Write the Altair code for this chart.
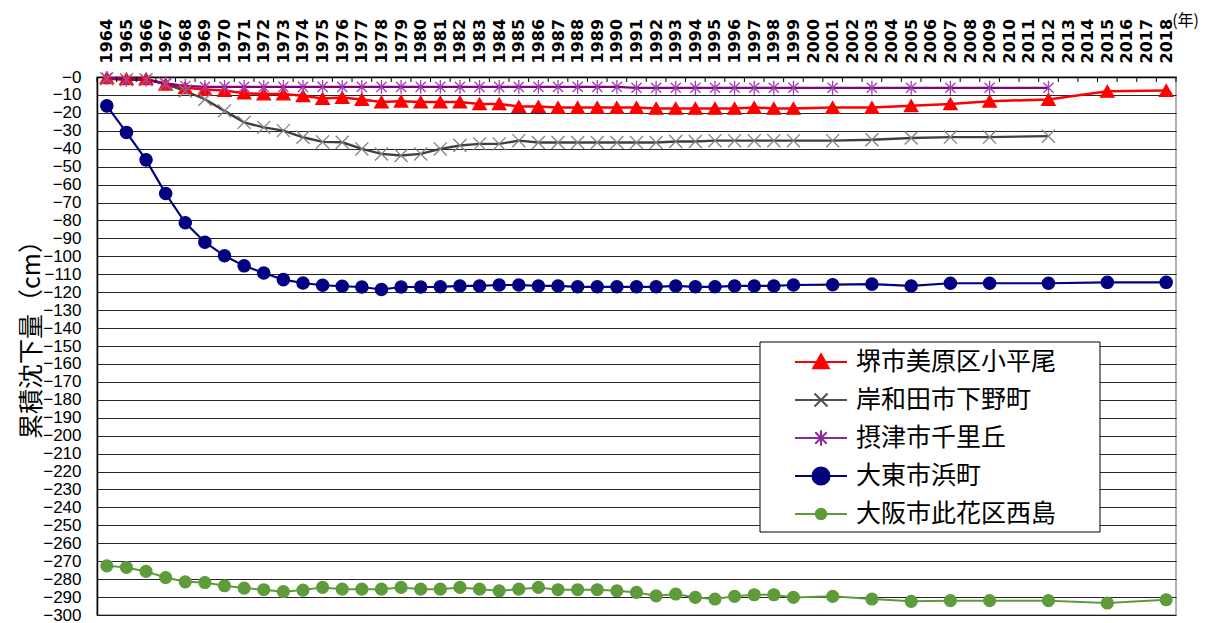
import altair as alt
import pandas as pd

# ---------------- data ----------------
years = list(range(1964, 2000)) + [2001, 2003, 2005, 2007, 2009, 2012, 2015, 2018]
axis_years = list(range(1964, 2019))

series = ["堺市美原区小平尾", "岸和田市下野町", "摂津市千里丘", "大東市浜町", "大阪市此花区西島"]

sakai = [-0.5, -1, -1, -4, -6, -7, -7.5, -9, -9.5, -9.5, -10.5, -12, -11.5, -12.5, -14, -13.5,
         -14, -14, -14, -15, -15, -16.5, -16.5, -17, -17, -17, -17, -17, -17.5, -17.5, -17.5,
         -17.5, -17.5, -17, -17.5, -17.5,
         -17, -17, -16, -15, -13.5, -12.5, -8, -7.5]
kishiwada = [-1, -1.5, -1.5, -4, -7.8, -12.4, -18.9, -25.3, -28.1, -29.9, -33.6, -36.2, -36.4,
             -40.1, -42.9, -43.8, -42.9, -40.1, -38.2, -37.3, -37.3, -35.5, -36.5, -36.5, -36.5,
             -36.5, -36.5, -36.5, -36.5, -36, -36, -35.5, -35.5, -35.5, -35.5, -35.5,
             -35.5, -35, -34, -33.5, -33.5, -33, None, None]
settsu = [-0.5, -1.5, -1.5, -3.5, -5, -5.5, -5.5, -5.5, -5.5, -5.5, -5.5, -5.5, -5.5, -5.5, -5.5,
          -5.5, -5.5, -5.5, -5.5, -5.5, -5.5, -5.5, -5.5, -5.5, -5.5, -5.5, -5.5, -6, -6, -6, -6,
          -6, -6, -6, -6, -6,
          -6, -6, -6, -6, -6, -6, None, None]
daito = [-16.1, -30.9, -46.2, -65, -81.3, -92.1, -99.7, -105.3, -109.3, -113, -114.9, -116.1,
         -116.7, -117.1, -118.5, -117.1, -117.1, -117, -116.5, -116.5, -116, -116, -116.5,
         -116.5, -117, -117, -117, -117, -117, -116.5, -117, -117, -116.5, -116.5, -116.5, -116,
         -115.8, -115.5, -116.5, -115, -115, -115, -114.5, -114.5]
osaka = [-272.6, -273.5, -275.7, -279.1, -281.5, -281.9, -283.7, -285, -285.9, -287, -286.1,
         -284.6, -285.6, -285.6, -285.6, -284.6, -285.6, -285.6, -284.6, -285.6, -286.5, -285.6,
         -284.6, -285.9, -285.9, -285.9, -286.5, -287.4, -289.3, -288.3, -290.2, -291.1, -289.6,
         -288.7, -288.7, -290.2,
         -289.6, -291.1, -292.4, -292, -292, -292, -293.3, -291.5]
all_values = [sakai, kishiwada, settsu, daito, osaka]

y_ticks = list(range(-300, 1, 10))
tick_edges = [y - 0.5 for y in axis_years] + [axis_years[-1] + 0.5]

# ---------------- styles ----------------
line_colors = ["#FF0000", "#404040", "#800080", "#000080", "#5E9B3A"]
line_widths = [2.5, 2, 2.5, 2, 3.5]
marker_colors = ["#FF0000", "#808080", "#A040B0", "#000080", "#5E9B3A"]
marker_shapes = [
    "triangle-up",
    "M-1,-1L1,1M-1,1L1,-1",
    "M-0.8,-0.8L0.8,0.8M-0.8,0.8L0.8,-0.8M0,-1.1L0,1.1",
    "circle",
    "circle",
]
marker_sizes = [180, 140, 170, 280, 110]
legend_colors = ["#FF0000", "#505050", "#8A2A9A", "#000080", "#5E9B3A"]
legend_shapes = [
    "M-1,0H1M0,-0.3L0.3,0.24L-0.3,0.24Z",
    "M-1,0H1M-0.25,-0.25L0.25,0.25M-0.25,0.25L0.25,-0.25",
    "M-1,0H1M-0.22,-0.22L0.22,0.22M-0.22,0.22L0.22,-0.22M0,-0.3V0.3",
    "M-1,0H1M0.33,0A0.33,0.33 0 1,1 -0.33,0A0.33,0.33 0 1,1 0.33,0Z",
    "M-1,0H1M0.2,0A0.2,0.2 0 1,1 -0.2,0A0.2,0.2 0 1,1 0.2,0Z",
]

rows = []
for name, vals in zip(series, all_values):
    for yr, v in zip(years, vals):
        if v is not None:
            rows.append({"year": yr, "value": v, "series": name})
df = pd.DataFrame(rows)

x_scale = alt.Scale(domain=[axis_years[0] - 0.5, axis_years[-1] + 0.5], nice=False, zero=False)
y_scale = alt.Scale(domain=[-300, 0], nice=False, zero=False)

x_axis = alt.Axis(
    orient="top", values=axis_years, format="d", labelAngle=270, labelFont="DejaVu Sans",
    labelFontWeight="bold", labelFontSize=16, labelColor="#000", labelPadding=14,
    ticks=False, tickSize=0, grid=False, domain=True, domainColor="#000", domainWidth=1.5,
    title=None, labelOverlap=False,
)
y_axis = alt.Axis(
    values=y_ticks, labelExpr="datum.value == 0 ? '−0' : datum.label",
    labelFont="Liberation Sans", labelFontSize=17, labelColor="#000", labelPadding=16,
    ticks=False, tickSize=0, grid=True, gridColor="#000", gridWidth=1, gridOpacity=0.85,
    domain=True, domainColor="#000", domainWidth=1.5, labelOverlap=False,
    title="累積沈下量（cm）", titleFont="Noto Sans CJK JP", titleFontSize=25,
    titleFontWeight="normal", titleColor="#000", titleX=-53, titleY=256,
    titleAlign="center", titleBaseline="bottom",
)

X = alt.X("year:Q", scale=x_scale, axis=x_axis)
Y = alt.Y("value:Q", scale=y_scale, axis=y_axis)

base = alt.Chart(df)

frame = alt.Chart(pd.DataFrame({"k": [0]})).mark_rect(
    fill="white", stroke="black", strokeWidth=1
).encode(x=alt.value(663), x2=alt.value(1003), y=alt.value(265), y2=alt.value(455))

lines = base.mark_line().encode(
    x=X, y=Y,
    stroke=alt.Stroke("series:N", scale=alt.Scale(domain=series, range=line_colors), legend=None),
    strokeWidth=alt.StrokeWidth("series:O", scale=alt.Scale(domain=series, range=line_widths), legend=None),
    order="year:Q",
)

points = base.mark_point(filled=True, opacity=1, strokeWidth=1.3).encode(
    x=X, y=Y,
    shape=alt.Shape("series:N", scale=alt.Scale(domain=series, range=marker_shapes), legend=None),
    fill=alt.Fill("series:N", scale=alt.Scale(domain=series, range=marker_colors), legend=None),
    stroke=alt.Stroke("series:N", scale=alt.Scale(domain=series, range=marker_colors), legend=None),
    size=alt.Size("series:O", scale=alt.Scale(domain=series, range=marker_sizes), legend=None),
)

leg = alt.Legend(
    orient="none", legendX=697, legendY=272, title=None, labelFont="Noto Sans CJK JP",
    labelFontSize=25, labelColor="#000", labelLimit=500, labelOffset=8,
    symbolSize=2704, symbolStrokeWidth=2, symbolOpacity=1, clipHeight=26, rowPadding=12,
    padding=0, symbolOffset=0,
)
legend_layer = base.mark_point(filled=True, opacity=0).encode(
    x=X, y=Y,
    shape=alt.Shape("series:N", scale=alt.Scale(domain=series, range=legend_shapes), legend=leg),
    fill=alt.Fill("series:N", scale=alt.Scale(domain=series, range=legend_colors), legend=leg),
    stroke=alt.Stroke("series:N", scale=alt.Scale(domain=series, range=legend_colors), legend=leg),
)

ticks = alt.Chart(pd.DataFrame({"year": tick_edges})).mark_rule(color="#000", strokeWidth=1).encode(
    x=X, y=alt.value(0), y2=alt.value(5)
)

unit = alt.Chart(pd.DataFrame({"t": ["(年)"]})).mark_text(
    font="Noto Sans CJK JP", fontSize=16, align="right", baseline="middle", color="#000"
).encode(text="t:N", x=alt.value(1102), y=alt.value(-56))

chart = alt.layer(frame, lines, points, legend_layer, ticks, unit).resolve_scale(
    stroke="independent", fill="independent", shape="independent", size="independent",
    strokeWidth="independent",
).properties(
    width=1079, height=538,
    autosize=alt.AutoSizeParams(type="none"),
    padding={"left": 89, "top": 69, "right": 26, "bottom": 10},
).configure_view(stroke="#999", strokeWidth=1.5)

chart.save("out.html", embed_options={"renderer": "svg", "actions": False})
